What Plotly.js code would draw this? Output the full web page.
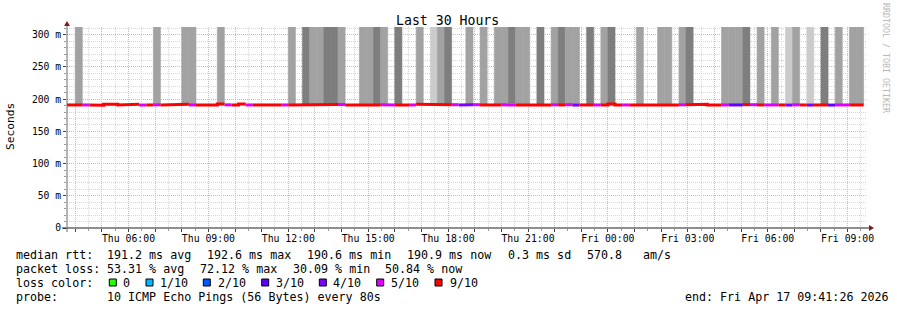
<!DOCTYPE html>
<html><head><meta charset="utf-8">
<script src="https://cdn.plot.ly/plotly-3.0.1.min.js"></script>
<style>html,body{margin:0;padding:0;background:#fff}</style>
</head><body><div id="chart" style="width:897px;height:310px"></div>
<script>
// ---------------- data ----------------
const chartTitle = 'Last 30 Hours';
const yTitle = 'Seconds';
const startTime = Date.UTC(2026, 3, 16, 3, 41, 26);   // Thu Apr 16 03:41:26
const endTime   = Date.UTC(2026, 3, 17, 9, 41, 26);   // Fri Apr 17 09:41:26
const firstBinStart = Date.UTC(2026, 3, 16, 3, 28, 0);
const binSeconds = 960;

// median RTT per 16-minute bin (ms)
const medianRtt = [
 191.0,191.0,191.0,191.0,191.0,190.6,192.2,192.2,191.0,192.0,192.0,190.8,191.0,191.2,191.0,192.0,
 192.0,192.0,191.0,191.0,191.0,191.0,192.4,191.2,191.0,192.6,191.0,191.0,191.0,190.8,191.0,191.0,
 191.0,191.0,191.4,191.4,191.4,191.8,191.8,191.6,191.0,191.0,191.0,191.0,191.0,191.4,191.0,191.0,
 190.8,191.0,192.0,191.0,191.0,191.2,191.2,191.4,190.8,191.2,191.4,191.0,191.0,191.0,191.2,191.0,
 191.0,191.0,191.2,191.0,191.0,191.2,191.0,191.4,190.8,191.0,191.0,191.0,191.0,192.4,191.0,191.0,
 191.0,191.0,190.8,190.8,191.0,191.0,191.0,191.2,191.4,192.4,192.0,190.8,190.8,191.0,191.0,191.0,
 191.4,191.4,191.0,191.0,191.0,191.0,190.8,191.2,191.0,190.8,191.0,191.0,190.8,191.0,191.0,191.0,
 191.0
];
// lost pings (of 10) per bin
const lostPings = [
 9,9,9,6,9,9,9,9,9,9,9,5,9,6,9,9,
 9,9,6,9,9,9,9,6,9,9,5,9,9,9,9,6,
 9,9,9,9,9,9,9,6,9,9,9,9,9,6,5,9,
 9,6,9,9,9,9,9,6,4,4,6,9,9,9,6,6,
 9,9,9,9,9,6,9,6,4,9,9,6,9,9,9,6,
 9,9,9,9,9,9,9,6,9,9,9,9,9,6,3,3,
 9,6,9,6,6,9,4,6,9,4,9,9,3,6,6,9,
 9
];
// smoke density class per bin: 0 none, 1 sparse, 2 medium, 3 dense
const smokeLevel = [
 0,0,2,0,0,0,0,0,0,0,0,0,0,2,0,0,
 0,2,2,0,0,0,2,0,0,0,0,0,0,0,0,0,
 2,0,3,2,2,3,3,2,0,0,2,2,3,2,0,3,
 0,0,2,0,1,2,3,0,0,2,0,2,0,2,2,3,
 2,2,0,3,0,2,3,2,2,0,3,0,2,3,0,0,
 0,2,0,0,2,2,0,2,3,0,0,0,0,2,2,2,
 3,0,2,0,2,0,1,2,0,1,0,3,0,2,0,2,
 2
];
// smoke upper bound (ms) – off the top of the scale
const smokeTop = 340;

// loss legend
const lossLabels = ['0','1/10','2/10','3/10','4/10','5/10','9/10'];
const lossThresholds = [0,1,2,3,4,5,9];
const lossColors = ['#26ff00','#00b8ff','#0059ff','#5e00ff','#7e00ff','#dd00ff','#ff0000'];

// y ticks
const yTickVals = [0,50,100,150,200,250,300];
const yTickText = ['0','50 m','100 m','150 m','200 m','250 m','300 m'];

// legend text
const rttLabel = 'median rtt:';
const rttFields = ['191.2 ms avg','192.6 ms max','190.6 ms min','190.9 ms now','0.3 ms sd','570.8','am/s'];
const lossLabel = 'packet loss:';
const lossFields = ['53.31 % avg','72.12 % max','30.09 % min','50.84 % now'];
const lossColorLabel = 'loss color:';
const probeLabel = 'probe:';
const probeText = '10 ICMP Echo Pings (56 Bytes) every 80s';
const endText = 'end: Fri Apr 17 09:41:26 2026';
const watermark = 'RRDTOOL / TOBI OETIKER';

// ---------------- build ----------------
const MONO = 'DejaVu Sans Mono, monospace';
const W = 897, H = 310, L = 67, R = 866, T = 27, B = 228;
const px = v => (v - L) / (R - L);
const py = v => (B - v) / (B - T);
const nb = s => s.replace(/ /g, '\u00a0');

const stepMs = binSeconds * 1000;
const binStart = medianRtt.map((_, i) => firstBinStart + i * stepMs);

function lossColor(n) {
  let c = lossColors[0];
  for (let i = 0; i < lossThresholds.length; i++) if (n >= lossThresholds[i]) c = lossColors[i];
  return c;
}
const smokeColors = [null, '#cbcbcb', '#a2a2a2', '#7e7e7e'];

const traces = [];
// smoke
const sx = [], sy = [], sb = [], sc = [];
binStart.forEach((t, i) => {
  if (smokeLevel[i] > 0) {
    sx.push(t + stepMs / 2); sb.push(medianRtt[i]); sy.push(smokeTop - medianRtt[i]);
    sc.push(smokeColors[smokeLevel[i]]);
  }
});
traces.push({type:'bar', x:sx, y:sy, base:sb, width:stepMs, marker:{color:sc, line:{width:0.6, color:sc}},
  hoverinfo:'skip', showlegend:false});

// median line, one trace per loss colour
lossColors.forEach(col => {
  const x = [], y = [];
  let prev = false;
  binStart.forEach((t, i) => {
    const on = lossColor(lostPings[i]) === col;
    if (on) { x.push(t, t + stepMs); y.push(medianRtt[i], medianRtt[i]); }
    else if (prev) { x.push(null); y.push(null); }
    prev = on;
  });
  if (x.length) traces.push({type:'scatter', mode:'lines', x, y, line:{color:col, width:3},
    hoverinfo:'skip', showlegend:false, connectgaps:false});
});

// x ticks hourly, labelled every 3 h
const days = ['Sun','Mon','Tue','Wed','Thu','Fri','Sat'];
const xTickVals = [], xTickText = [];
for (let t = Date.UTC(2026,3,16,4,0,0); t <= endTime; t += 3600000) {
  const d = new Date(t);
  xTickVals.push(t);
  xTickText.push(d.getUTCHours() % 3 === 0 ?
    days[d.getUTCDay()] + ' ' + String(d.getUTCHours()).padStart(2,'0') + ':00' : '');
}

const MGRID = '#f4a8a8', GRID = '#d6d6d6';
const ann = [];
const shapes = [];
function txt(text, x, y, size, extra) {
  ann.push(Object.assign({text: nb(text), xref:'paper', yref:'paper', x: px(x), y: py(y),
    xanchor:'left', yanchor:'middle', showarrow:false, borderpad:0, borderwidth:0,
    font:{family:MONO, size:size, color:'#000'}}, extra || {}));
}
// title, y title, watermark
txt(chartTitle, 447.5, 20, 13.2, {xanchor:'center'});
txt(yTitle, 11, 127, 11.2, {xanchor:'center', textangle:-90});
txt(watermark, 886, 58, 8.3, {xanchor:'center', textangle:90, font:{family:MONO, size:8.3, color:'#b8b8b8'}});

// legend lines
const legFS = 11.67;
txt(rttLabel, 16, 254.5, legFS);
[107.3,207.3,307.3,407.3,508.3,586.7,642.7].forEach((x,i) => txt(rttFields[i], x, 254.5, legFS));
txt(lossLabel, 16, 268.5, legFS);
[107.3,200,292.7,385.3].forEach((x,i) => txt(lossFields[i], x, 268.5, legFS));
txt(lossColorLabel, 16, 282.5, legFS);
const boxX = [109.3,146,203.3,261.7,319.3,376.7,435];
const labX = [123.3,160,218,276,333.3,390.7,450];
lossLabels.forEach((lab, i) => {
  shapes.push({type:'rect', xref:'paper', yref:'paper', x0:px(boxX[i]), x1:px(boxX[i]+7),
    y0:py(286), y1:py(279), fillcolor:lossColors[i], line:{color:'#000', width:1}});
  txt(lab, labX[i], 282.5, legFS);
});
txt(probeLabel, 16, 296.5, legFS);
txt(probeText, 107.3, 296.5, legFS);
txt(endText, 888.5, 296.5, legFS, {xanchor:'right'});

// axis lines and arrows
shapes.push({type:'line', xref:'paper', yref:'paper', x0:px(62), x1:px(870), y0:0, y1:0,
  line:{color:'#1f1f1f', width:1}});
shapes.push({type:'line', xref:'paper', yref:'paper', x0:0, x1:0, y0:py(232), y1:py(24),
  line:{color:'#6a6a6a', width:1}});
shapes.push({type:'path', xref:'paper', yref:'paper',
  path:`M ${px(64)} ${py(26)} L ${px(70)} ${py(26)} L ${px(67)} ${py(21)} Z`,
  fillcolor:'#7f1f1f', line:{color:'#7f1f1f', width:0}});
shapes.push({type:'path', xref:'paper', yref:'paper',
  path:`M ${px(869)} ${py(225)} L ${px(869)} ${py(231)} L ${px(874)} ${py(228)} Z`,
  fillcolor:'#7f1f1f', line:{color:'#7f1f1f', width:0}});

const layout = {
  width:W, height:H, margin:{l:L, r:W-R, t:T, b:H-B, pad:0},
  paper_bgcolor:'#fff', plot_bgcolor:'#fff', showlegend:false, barmode:'overlay',
  font:{family:MONO, color:'#000'},
  xaxis:{type:'date', range:[startTime, endTime], tickmode:'array', tickvals:xTickVals, ticktext:xTickText,
    showgrid:true, gridcolor:MGRID, griddash:'1px,1px', gridwidth:1, zeroline:false, showline:false,
    ticks:'outside', ticklen:3, tickcolor:'#444', ticklabelstandoff:-2,
    tickfont:{family:MONO, size:9.8, color:'#000'},
    minor:{tickmode:'linear', tick0:Date.UTC(2026,3,16,0,0,0), dtick:1800000, showgrid:true,
      gridcolor:GRID, griddash:'1px,1px', ticks:'outside', ticklen:2, tickcolor:'#999'},
    fixedrange:true},
  yaxis:{range:[0, 312], tickmode:'array', tickvals:yTickVals, ticktext:yTickText,
    showgrid:true, gridcolor:MGRID, griddash:'1px,1px', gridwidth:1, zeroline:false, showline:false,
    ticks:'outside', ticklen:3, tickcolor:'#444', tickfont:{family:MONO, size:9.7, color:'#000'},
    minor:{tickmode:'linear', tick0:0, dtick:10, showgrid:true, gridcolor:GRID, griddash:'1px,1px',
      ticks:'outside', ticklen:2, tickcolor:'#999'},
    fixedrange:true},
  annotations:ann, shapes:shapes
};
Plotly.newPlot('chart', traces, layout, {staticPlot:true, displayModeBar:false});
</script></body></html>
